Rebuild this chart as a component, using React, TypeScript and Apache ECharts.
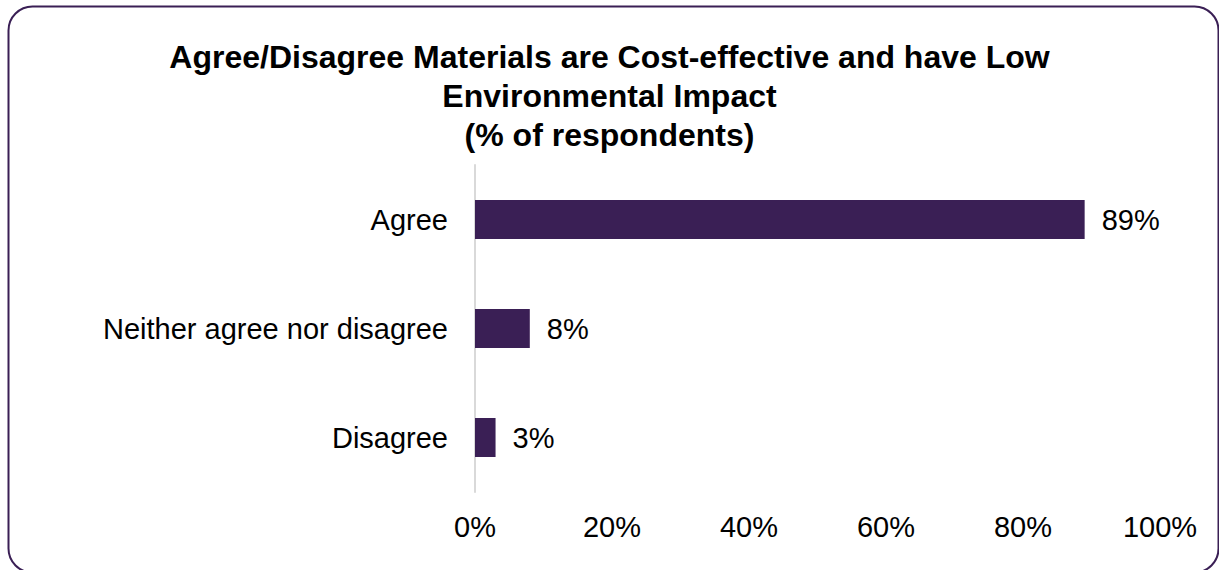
import React, { useEffect, useRef } from "react";
import * as echarts from "echarts";

const categories = ["Agree", "Neither agree nor disagree", "Disagree"];
const values = [89, 8, 3];
const titleText =
  "Agree/Disagree Materials are Cost-effective and have Low\nEnvironmental Impact\n(% of respondents)";

const FONT = 'Arial, "Liberation Sans", sans-serif';
const PURPLE = "#3a1f55";

export default function App() {
  const ref = useRef<HTMLDivElement>(null);
  useEffect(() => {
    if (!ref.current) return;
    const chart = echarts.init(ref.current, null, { renderer: "svg" });
    chart.setOption({
      animation: false,
      backgroundColor: "#ffffff",
      title: {
        text: titleText,
        left: "center",
        top: 32,
        textStyle: {
          fontFamily: FONT,
          fontSize: 32,
          fontWeight: "bold",
          color: "#000000",
          lineHeight: 39,
        },
      },
      graphic: [
        {
          type: "rect",
          shape: { x: 8.5, y: 6.5, width: 1210, height: 566, r: 24 },
          style: { fill: "none", stroke: PURPLE, lineWidth: 2 },
          silent: true,
          z: 100,
        },
      ],
      grid: { left: 475, right: 59, top: 165, bottom: 78, containLabel: false },
      xAxis: {
        type: "value",
        min: 0,
        max: 100,
        interval: 20,
        axisLine: { show: false },
        axisTick: { show: false },
        splitLine: { show: false },
        axisLabel: {
          formatter: "{value}%",
          fontFamily: FONT,
          fontSize: 29,
          color: "#000000",
          margin: 20,
        },
      },
      yAxis: {
        type: "category",
        inverse: true,
        data: categories,
        axisLine: { show: true, lineStyle: { color: "#d9d9d9", width: 2 } },
        axisTick: { show: false },
        axisLabel: {
          fontFamily: FONT,
          fontSize: 29,
          color: "#000000",
          margin: 27,
        },
      },
      series: [
        {
          type: "bar",
          data: values,
          barWidth: 39,
          itemStyle: { color: PURPLE },
          label: {
            show: true,
            position: "right",
            distance: 17,
            formatter: "{c}%",
            fontFamily: FONT,
            fontSize: 29,
            color: "#000000",
          },
        },
      ],
    });
    return () => chart.dispose();
  }, []);
  return (
    <div
      ref={ref}
      style={{ position: "fixed", left: 0, top: 0, width: 1219, height: 570 }}
    />
  );
}
